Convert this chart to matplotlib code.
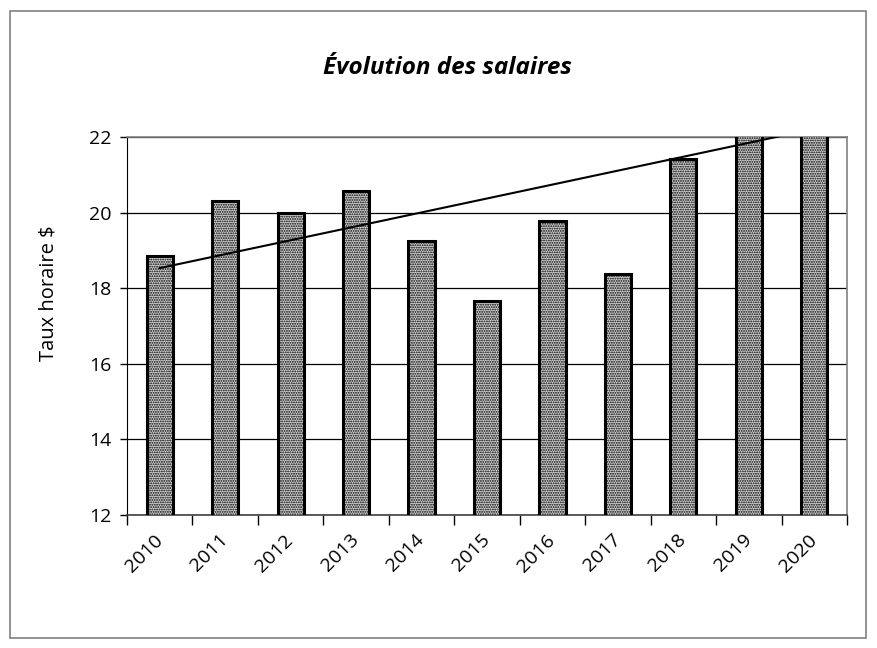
import matplotlib.pyplot as plt
import numpy as np
from matplotlib.patches import Rectangle

annees = ['2010', '2011', '2012', '2013', '2014', '2015', '2016', '2017', '2018', '2019', '2020']
taux = [18.85, 20.32, 20.0, 20.57, 19.24, 17.66, 19.77, 18.38, 21.43, 23.9, 24.0]

plt.rcParams['font.family'] = ['Open Sans', 'DejaVu Sans']
plt.rcParams['hatch.color'] = '#808080'
plt.rcParams['hatch.linewidth'] = 0.9

fig = plt.figure(figsize=(8.77, 6.48), dpi=100)
ax = fig.add_axes([0.1448, 0.2052, 0.821, 0.5833])

# cadre extérieur du graphique
fig.patches.append(Rectangle((10 / 877, 10 / 648), 856 / 877, 627 / 648,
                             transform=fig.transFigure, fill=False,
                             edgecolor='#808080', linewidth=1.2))

x = np.arange(len(annees))
ax.bar(x, taux, width=0.4, bottom=0, color='#d0d0d0', hatch='.......',
       edgecolor='black', linewidth=2.2, zorder=3)

# tendance linéaire
pente, origine = np.polyfit(x, taux, 1)
ax.plot(x, origine + pente * x, color='black', linewidth=1.5, zorder=4)

ax.set_xlim(-0.5, len(annees) - 0.5)
ax.set_ylim(12, 22)
ax.set_yticks(np.arange(12, 23, 2))
ax.yaxis.grid(True, color='black', linewidth=0.9)
ax.set_axisbelow(True)

ax.set_xticks(x)
ax.set_xticklabels(annees, rotation=45, ha='right', va='center',
                   rotation_mode='anchor', fontsize=14)
ax.set_xticks(np.arange(-0.5, len(annees)), minor=True)
ax.tick_params(axis='x', which='major', length=0, pad=16)
ax.tick_params(axis='x', which='minor', length=7, width=1, direction='out')
ax.tick_params(axis='y', length=5, width=1, direction='out', labelsize=14, pad=6)

for side in ['top', 'right']:
    ax.spines[side].set_color('#808080')
    ax.spines[side].set_linewidth(1.2)
ax.spines['left'].set_color('black')
ax.spines['bottom'].set_color('#404040')
ax.spines['bottom'].set_linewidth(1.2)

fig.text(0.055, 1 - 293 / 648, 'Taux horaire $', rotation=90, ha='center',
         va='center', fontsize=14.5)
fig.text(0.51, 1 - 68 / 648, 'Évolution des salaires', ha='center', va='center',
         fontsize=17.5, fontweight='bold', fontstyle='italic')

fig.savefig('out.png', dpi=100)
